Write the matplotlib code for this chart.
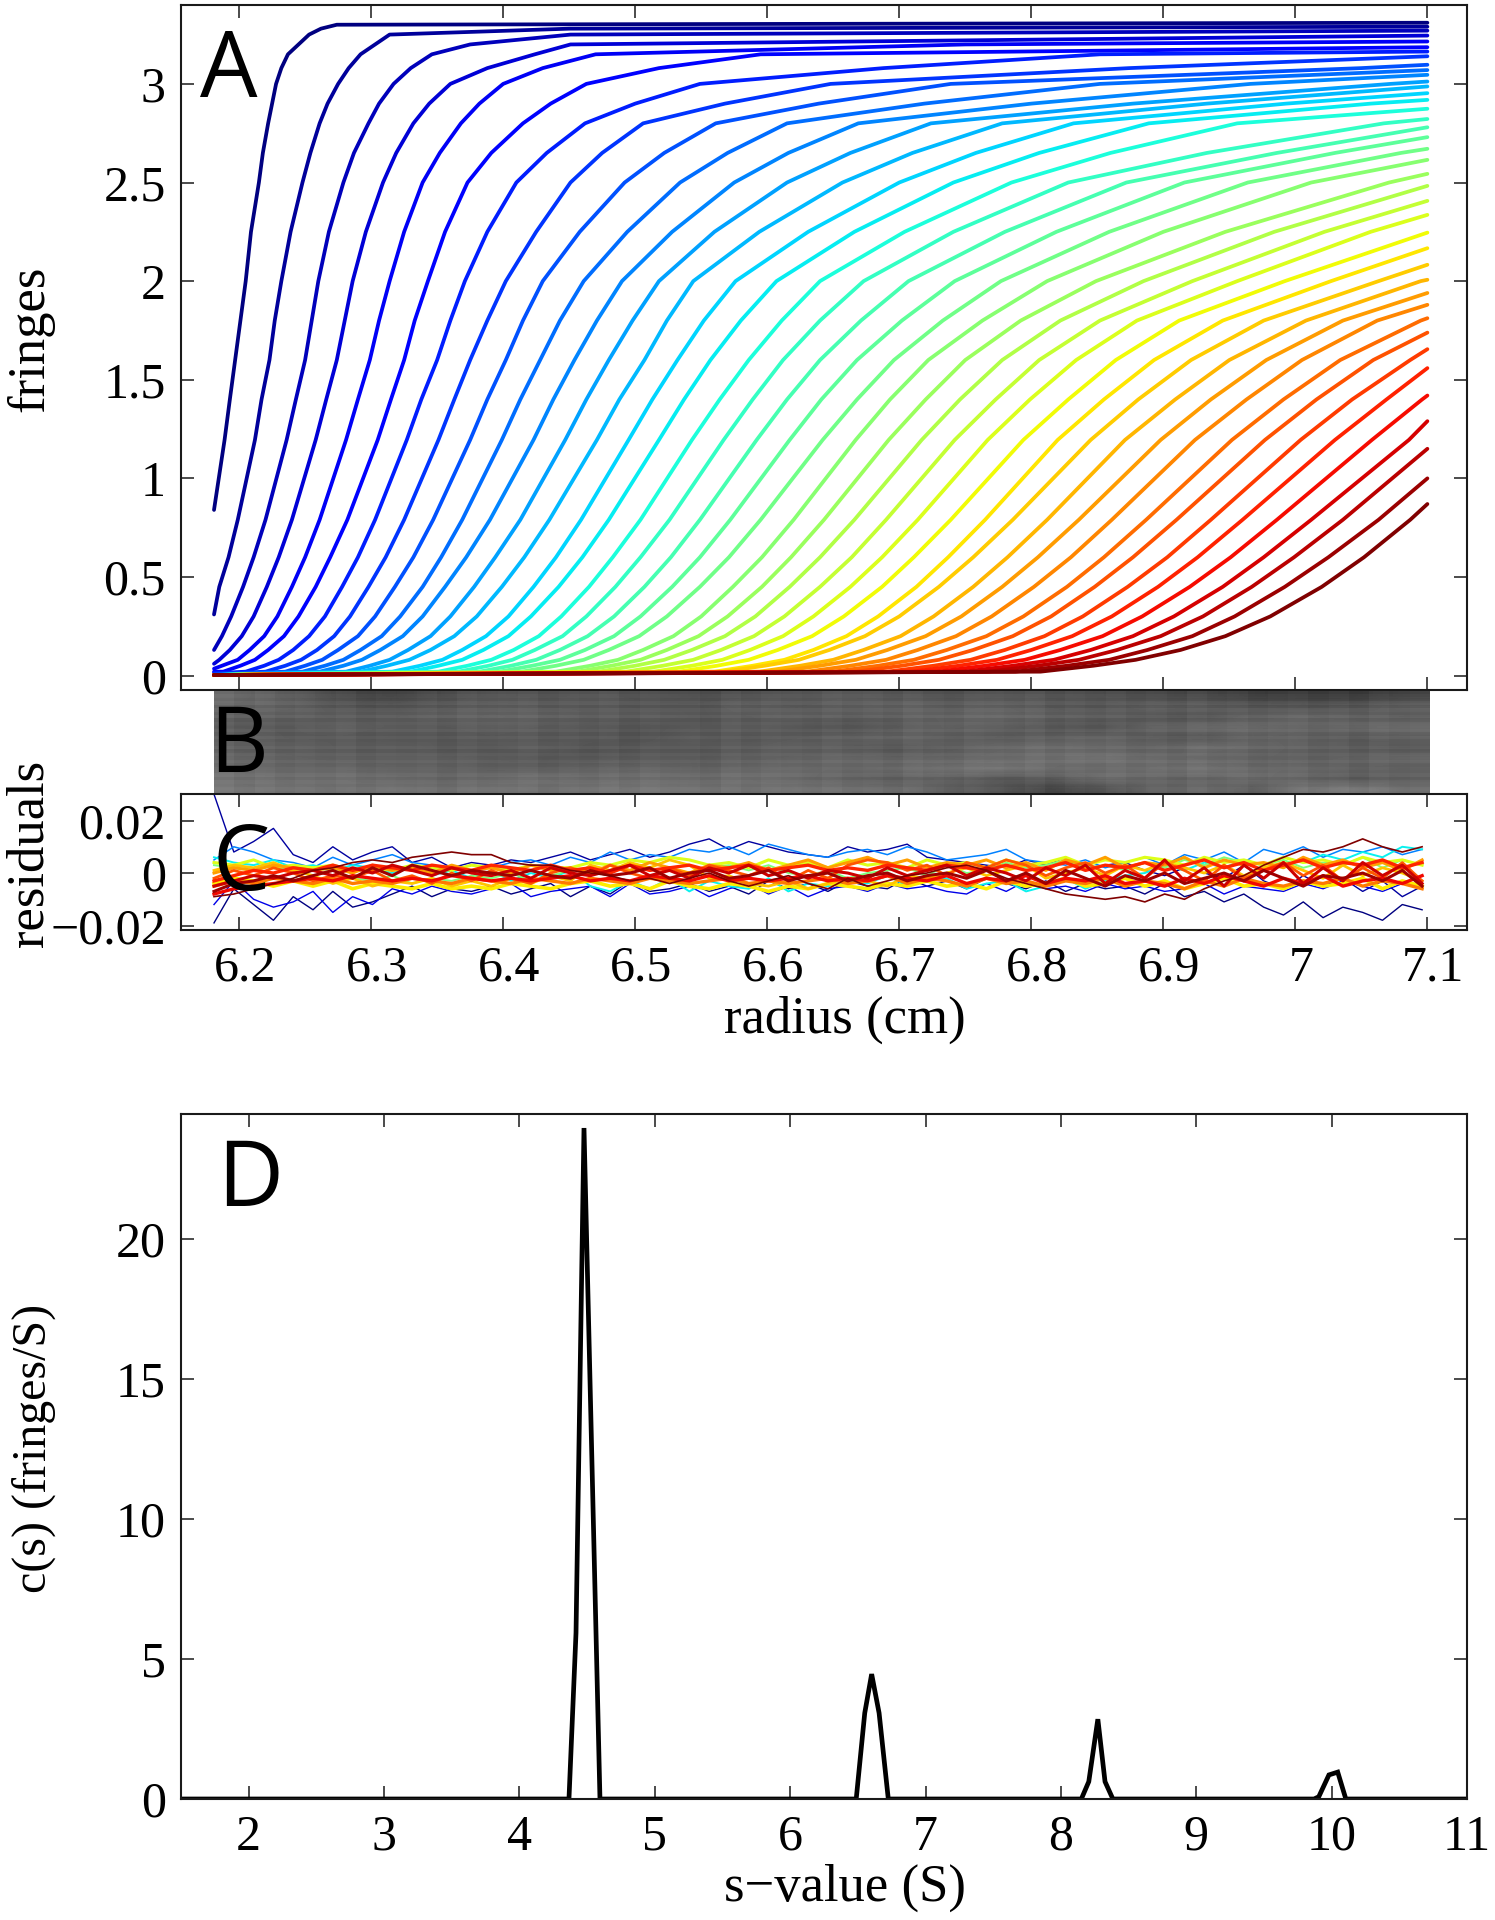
import numpy as np
import matplotlib
matplotlib.use('Agg')
from matplotlib import pyplot as plt
from matplotlib.transforms import ScaledTranslation

plt.rcParams['font.family'] = ['Liberation Serif', 'DejaVu Serif']

W, H = 1495, 1920
na = float('nan')

# panel A: radius (cm) where each scan crosses a given fringe level, scan 1 to 40
start_r = 6.181
end_r = 7.10
start_fringes = [0.84, 0.31, 0.13, 0.06, 0.035, 0.02, 0.012, 0.008, 0.005, 0.004] + [0.003] * 30
end_fringes = [3.31, 3.29, 3.27, 3.245, 3.215, 3.186, 3.164, 3.14, 3.097, 3.07,
               3.046, 3.012, 2.987, 2.953, 2.919, 2.874, 2.822, 2.78, 2.73, 2.671,
               2.615, 2.544, 2.483, 2.407, 2.336, 2.246, 2.167, 2.083, 2.007, 1.94,
               1.88, 1.812, 1.739, 1.655, 1.559, 1.42, 1.29, 1.15, 1.0, 0.87]

r_at_002 = [na, na, na, na, na, 6.188, 6.205, 6.220, 6.235, 6.248, 6.261, 6.281, 6.292, 6.316, 6.330,
            6.351, 6.366, 6.382, 6.397, 6.414, 6.440, 6.456, 6.472, 6.493, 6.514, 6.533, 6.560, 6.567,
            6.594, 6.608, 6.630, 6.650, 6.667, 6.691, 6.709, 6.729, 6.749, 6.767, 6.788, 6.807]
r_at_005 = [na, na, na, na, na, 6.201, 6.219, 6.235, 6.250, 6.265, 6.279, 6.299, 6.312, 6.337, 6.351,
            6.373, 6.389, 6.406, 6.422, 6.440, 6.466, 6.482, 6.500, 6.521, 6.543, 6.562, 6.589, 6.598,
            6.625, 6.640, 6.663, 6.684, 6.702, 6.726, 6.745, 6.765, 6.786, 6.805, 6.827, 6.847]
r_at_008 = [na, na, na, 6.185, 6.199, 6.212, 6.230, 6.247, 6.263, 6.279, 6.293, 6.314, 6.329, 6.354, 6.369,
            6.391, 6.407, 6.425, 6.443, 6.461, 6.487, 6.504, 6.522, 6.544, 6.566, 6.586, 6.613, 6.624,
            6.650, 6.667, 6.690, 6.711, 6.730, 6.754, 6.774, 6.795, 6.817, 6.836, 6.859, 6.879]
r_at_013 = [na, na, na, 6.193, 6.208, 6.222, 6.241, 6.259, 6.275, 6.292, 6.307, 6.328, 6.345, 6.369, 6.385,
            6.408, 6.424, 6.443, 6.462, 6.480, 6.506, 6.524, 6.543, 6.565, 6.587, 6.608, 6.635, 6.647,
            6.673, 6.691, 6.714, 6.736, 6.756, 6.780, 6.800, 6.822, 6.845, 6.865, 6.888, 6.913]
r_at_020 = [na, na, 6.187, 6.202, 6.219, 6.234, 6.253, 6.272, 6.290, 6.308, 6.324, 6.345, 6.363, 6.387, 6.404,
            6.427, 6.445, 6.464, 6.484, 6.503, 6.529, 6.548, 6.568, 6.590, 6.612, 6.634, 6.660, 6.674,
            6.701, 6.720, 6.743, 6.766, 6.786, 6.810, 6.831, 6.854, 6.877, 6.898, 6.922, 6.947]
r_at_030 = [na, na, 6.194, 6.211, 6.229, 6.245, 6.265, 6.284, 6.303, 6.322, 6.339, 6.360, 6.380, 6.404, 6.421,
            6.444, 6.463, 6.484, 6.504, 6.524, 6.550, 6.570, 6.591, 6.613, 6.635, 6.658, 6.684, 6.700,
            6.726, 6.747, 6.770, 6.794, 6.815, 6.839, 6.861, 6.884, 6.908, 6.930, 6.954, 6.981]
r_at_045 = [na, 6.185, 6.203, 6.221, 6.240, 6.258, 6.278, 6.298, 6.318, 6.339, 6.356, 6.378, 6.399, 6.423, 6.442,
            6.465, 6.485, 6.507, 6.528, 6.549, 6.574, 6.596, 6.617, 6.640, 6.663, 6.687, 6.713, 6.730,
            6.756, 6.778, 6.802, 6.827, 6.848, 6.873, 6.896, 6.920, 6.945, 6.967, 6.992, 7.020]
r_at_060 = [na, 6.192, 6.211, 6.230, 6.250, 6.269, 6.290, 6.311, 6.332, 6.353, 6.372, 6.394, 6.416, 6.440, 6.460,
            6.483, 6.504, 6.527, 6.549, 6.571, 6.596, 6.618, 6.640, 6.664, 6.687, 6.711, 6.737, 6.756,
            6.782, 6.805, 6.830, 6.855, 6.877, 6.903, 6.926, 6.951, 6.976, 6.999, 7.025, 7.052]
r_at_079 = [na, 6.199, 6.220, 6.240, 6.261, 6.282, 6.303, 6.325, 6.347, 6.369, 6.390, 6.413, 6.435, 6.459, 6.480,
            6.504, 6.526, 6.549, 6.572, 6.595, 6.620, 6.643, 6.666, 6.690, 6.714, 6.739, 6.765, 6.786,
            6.812, 6.836, 6.861, 6.887, 6.910, 6.936, 6.960, 6.986, 7.012, 7.036, 7.063, 7.087]
r_at_120 = [6.189, 6.212, 6.236, 6.258, 6.281, 6.305, 6.327, 6.351, 6.375, 6.399, 6.423, 6.447, 6.471, 6.495, 6.518,
            6.543, 6.567, 6.592, 6.617, 6.642, 6.667, 6.692, 6.717, 6.742, 6.767, 6.794, 6.820, 6.845,
            6.871, 6.898, 6.924, 6.952, 6.977, 7.004, 7.030, 7.058, 7.086]
r_at_140 = [6.193, 6.217, 6.243, 6.266, 6.290, 6.315, 6.338, 6.363, 6.388, 6.413, 6.438, 6.463, 6.488, 6.513, 6.537,
            6.564, 6.589, 6.615, 6.641, 6.668, 6.693, 6.720, 6.746, 6.773, 6.799, 6.828, 6.855, 6.881,
            6.909, 6.936, 6.963, 6.991, 7.016, 7.043, 7.069, 7.096]
r_at_160 = [6.197, 6.223, 6.250, 6.274, 6.299, 6.325, 6.350, 6.375, 6.402, 6.428, 6.454, 6.480, 6.507, 6.532, 6.557,
            6.586, 6.612, 6.640, 6.668, 6.696, 6.722, 6.750, 6.778, 6.806, 6.834, 6.864, 6.893, 6.921,
            6.950, 6.978, 7.005, 7.034, 7.059, 7.087]
r_at_180 = [6.201, 6.227, 6.255, 6.280, 6.306, 6.333, 6.360, 6.388, 6.415, 6.443, 6.471, 6.498, 6.524, 6.552, 6.580,
            6.611, 6.640, 6.671, 6.702, 6.733, 6.763, 6.792, 6.822, 6.852, 6.880, 6.912, 6.945, 6.976,
            7.008, 7.036, 7.062, 7.095]
r_at_200 = [6.205, 6.232, 6.260, 6.286, 6.314, 6.343, 6.371, 6.402, 6.430, 6.461, 6.490, 6.518, 6.544, 6.576, 6.607,
            6.640, 6.673, 6.707, 6.742, 6.777, 6.812, 6.849, 6.885, 6.922, 6.956, 6.992, 7.027, 7.063, 7.095]
r_at_225 = [6.209, 6.239, 6.268, 6.296, 6.325, 6.356, 6.388, 6.425, 6.458, 6.494, 6.528, 6.560, 6.594, 6.631, 6.666,
            6.704, 6.741, 6.780, 6.819, 6.859, 6.900, 6.947, 6.984, 7.022, 7.057]
r_at_250 = [6.215, 6.248, 6.279, 6.309, 6.339, 6.373, 6.410, 6.451, 6.492, 6.534, 6.575, 6.615, 6.657, 6.700, 6.741,
            6.785, 6.828, 6.872, 6.916, 6.964, 7.012, 7.071]
r_at_265 = [6.218, 6.254, 6.287, 6.319, 6.352, 6.391, 6.433, 6.475, 6.522, 6.570, 6.616, 6.663, 6.710, 6.758, 6.806,
            6.860, 6.933, 6.986, 7.030, 7.080]
r_at_280 = [6.222, 6.261, 6.298, 6.332, 6.368, 6.415, 6.462, 6.506, 6.561, 6.615, 6.669, 6.724, 6.778, 6.832, 6.889,
            6.956, 7.067]
r_at_290 = [6.225, 6.267, 6.306, 6.344, 6.382, 6.436, 6.500, 6.568, 6.639, 6.719, 6.800, 6.877, 6.933, 6.993, 7.057]
r_at_300 = [6.228, 6.275, 6.317, 6.360, 6.400, 6.463, 6.549, 6.648, 6.739, 6.852, 6.966, 7.072]
r_at_308 = [6.232, 6.283, 6.330, 6.388, 6.430, 6.518, 6.688, 6.874, 7.05]
r_at_315 = [6.237, 6.292, 6.346, 6.424, 6.470, 6.595, 6.852]
r_at_320 = [6.245, 6.303, 6.375, 6.451, 6.75]
r_at_325 = [6.253, 6.314, 6.451]
r_at_328 = [6.262, 6.45]
r_at_330 = [6.274]

crossings = [(0.02, r_at_002), (0.05, r_at_005), (0.08, r_at_008), (0.13, r_at_013), (0.2, r_at_020),
             (0.3, r_at_030), (0.45, r_at_045), (0.6, r_at_060), (0.79, r_at_079), (1.195, r_at_120),
             (1.4, r_at_140), (1.6, r_at_160), (1.8, r_at_180), (2.0, r_at_200), (2.25, r_at_225),
             (2.5, r_at_250), (2.65, r_at_265), (2.8, r_at_280), (2.9, r_at_290), (3.0, r_at_300),
             (3.08, r_at_308), (3.15, r_at_315), (3.2, r_at_320), (3.25, r_at_325), (3.28, r_at_328),
             (3.3, r_at_330)]

bitmap = [
    [110, 95, 70, 60, 75, 85, 80, 85, 80, 75, 80, 85, 90, 85, 80, 85, 80, 75, 70, 65, 55, 50, 50, 60],
    [105, 100, 85, 80, 90, 95, 90, 90, 85, 85, 95, 90, 95, 100, 95, 100, 90, 85, 95, 90, 85, 80, 85, 95],
    [95, 95, 90, 90, 95, 100, 95, 90, 90, 85, 90, 95, 90, 95, 100, 105, 95, 90, 85, 80, 95, 100, 95, 90],
    [90, 90, 95, 90, 90, 95, 90, 85, 80, 85, 90, 85, 80, 90, 100, 95, 85, 80, 100, 105, 110, 100, 105, 110],
    [95, 90, 90, 85, 85, 90, 85, 85, 80, 90, 85, 90, 95, 100, 95, 90, 95, 100, 90, 85, 100, 95, 90, 95],
    [95, 95, 90, 90, 85, 85, 90, 80, 85, 85, 90, 95, 90, 85, 95, 105, 110, 105, 100, 110, 105, 95, 90, 85],
    [105, 100, 95, 95, 95, 90, 85, 85, 90, 90, 95, 100, 105, 100, 105, 110, 115, 120, 110, 105, 100, 95, 100, 105],
    [110, 105, 105, 100, 100, 95, 95, 100, 105, 100, 105, 110, 105, 110, 120, 125, 115, 110, 115, 120, 110, 105, 100, 95],
    [120, 115, 115, 110, 105, 110, 115, 110, 115, 110, 115, 110, 100, 95, 100, 85, 90, 110, 105, 100, 110, 100, 90, 95],
    [125, 120, 115, 120, 115, 120, 115, 120, 125, 120, 115, 120, 115, 110, 95, 80, 60, 75, 100, 105, 95, 120, 130, 115],
]
row_streaks = [70, 110, 80, 130, 60, 120, 90, 140, 70, 110, 95, 130, 75, 125, 85, 100, 135, 70, 115, 90,
               125, 80, 105, 95, 130, 75, 110, 90, 120, 100]
col_streaks = [130, 70, 120, 80, 110, 90, 125, 75, 105, 95, 115, 70, 120, 85, 100, 130, 80, 110, 90, 125,
               75, 115, 95, 105, 70, 130, 85, 120, 100, 80, 125, 90, 110, 75, 135, 95, 70, 120, 105, 85,
               130, 75, 115, 90, 125, 80, 110, 70, 135, 95, 120, 75, 105, 130, 85, 115, 70, 125, 95, 110]

# panel C: residual traces, in units of 0.001 fringes, one sample every 0.015 cm
res_navy_low = [-19, -6, -12, -18, -9, -14, -7, -13, -11, -8, -5, -9, -6, -7, -5, -8, -6, -4, -9, -5, -8, -3, -7, -6, -4, -7, -5, -8, -3, -6, -4, -7, -3, -5, -6, -2, -5, -3, -6, -2, -4, -6, -3, -7, -4, -6, -5, -8, -4, -9, -7, -11, -8, -13, -16, -11, -17, -13, -15, -18, -12, -14]
res_navy_up = [30, 8, 12, 17, 7, 4, 10, 5, 8, 10, 4, 6, 2, 4, 3, 5, 4, 6, 8, 5, 7, 9, 6, 8, 11, 13, 9, 12, 10, 8, 7, 6, 10, 8, 9, 11, 6, 5, 4, 3, 2, 5, 3, 6, 2, 3, 4, 1, -1, 2, 0, -2, 3, -3, -6, -1, -5, -2, -7, -3, -9, -5]
res_blue_low = [-12, -3, -10, -13, -11, -7, -15, -9, -12, -6, -8, -5, -7, -8, -6, -4, -9, -7, -6, -5, -9, -4, -8, -7, -5, -9, -6, -4, -8, -5, -9, -6, -5, -7, -4, -6, -5, -7, -8, -4, -7, -3, -6, -5, -7, -4, -6, -5, -7, -6, -4, -8, -5, -6, -7, -4, -6, -3, -5, -7, -4, -6]
res_blue_up = [5, 10, 8, 5, 4, 2, 6, 3, 5, 7, 4, 3, 1, 3, 2, 4, 5, 3, 6, 4, 8, 5, 7, 6, 9, 8, 10, 7, 11, 9, 7, 6, 8, 9, 7, 10, 8, 5, 6, 7, 9, 5, 4, 3, 5, 2, 4, 6, 3, 7, 5, 8, 4, 9, 7, 10, 6, 9, 8, 10, 7, 9]
res_cyan = [6, 4, 3, 5, 2, 3, 1, 3, 2, 0, 2, -1, 1, -2, 1, -3, 0, -2, 1, -5, -7, -3, -6, -2, -7, -3, -5, -6, -2, -7, -4, -5, -3, -4, -1, -5, -3, -2, -6, -4, -3, -7, -5, -2, -6, -3, -1, 0, 3, 1, 4, 2, 5, 3, 6, 4, 7, 5, 8, 6, 10, 9]
res_green = [3, 2, 1, 3, 0, 2, 1, -2, -3, -1, -4, -2, -3, -1, -2, 0, -3, -1, 1, 2, 0, 3, 1, 2, 0, 2, 3, 1, 3, 0, -1, 1, -2, 0, 1, 2, -1, 3, 0, 1, 4, 2, 3, 5, 2, 3, 1, 4, 2, 5, 3, 6, 4, 3, 5, 2, 4, 3, 6, 2, 5, 3]
res_yellow_hi = [4, 3, 5, 2, 3, 2, 3, 1, 2, 1, 3, 2, 1, 3, 2, 1, 3, 2, 2, 4, 3, 5, 4, 6, 5, 3, 4, 2, 5, 3, 4, 2, 5, 3, 4, 2, 5, 3, 4, 2, 5, 3, 4, 6, 3, 5, 4, 6, 5, 3, 6, 4, 5, 3, 6, 4, 5, 3, 6, 4, 5, 3]
res_yellow_lo = [-4, -2, -3, -5, -3, -5, -3, -6, -4, -5, -6, -4, -6, -5, -6, -4, -5, -6, -4, -3, -5, -4, -6, -3, -5, -6, -4, -5, -7, -5, -6, -4, -5, -6, -4, -5, -3, -5, -4, -6, -3, -5, -4, -2, -5, -4, -2, -5, -3, -6, -4, -2, -5, -4, -6, -3, -5, -4, -2, -6, -3, -5]
res_yellow = [1, 3, 2, 4, 1, -1, -4, -2, -5, -3, -4, -2, -5, -3, -5, -2, -4, -1, -3, 3, 1, 4, 2, 5, 3, -2, -1, -4, -5, -3, -6, -4, -2, -3, -5, -1, -2, 0, 2, -1, 1, 3, -2, 0, 2, -1, 3, 1, 4, 2, 0, 3, -1, 2, 4, 1, -2, 3, -1, 2, 0, -3]
res_orange_hi = [0, 2, 1, 3, 2, 1, 2, 0, 3, 1, 2, 0, 3, 1, 2, 0, 3, 1, 2, 0, 3, 1, 4, 2, 0, 3, 2, 4, 1, 3, 5, 2, 4, 6, 3, 5, 2, 4, 3, 5, 2, 4, 1, 5, 3, 6, 2, 4, 3, 6, 2, 5, 3, 4, 2, 6, 3, 5, 2, 4, 1, 5]
res_orange_lo = [-5, -3, -4, -2, -3, -4, -2, -4, -3, -4, -2, -3, -4, -2, -3, -4, -2, -3, -4, -2, -3, -4, -2, -3, -4, -3, -2, -4, -3, -4, -3, -2, -4, -3, -1, -4, -2, -3, -5, -2, -4, -3, -5, -3, -4, -2, -5, -3, -4, -6, -3, -5, -2, -4, -5, -3, -4, -2, -5, -3, -4, -6]
res_orange = [-2, 1, -1, 2, 0, -3, -1, -2, 1, -3, -1, -4, 0, -3, 1, -2, -4, 0, 2, -1, 3, 0, -2, 2, -1, 3, 1, -1, 2, -3, 1, -2, 3, 5, 4, 1, 3, -1, 4, 2, 5, 3, -1, 2, 4, 0, 3, -2, 4, 1, -3, 3, -2, 1, 4, -1, 3, -3, 2, -2, 4, -3]
res_red_hi = [-3, -1, 1, 0, 2, 1, 3, 1, 3, 2, 1, 3, 2, 1, 3, 2, 1, 3, 1, 2, 0, 3, 1, 2, 3, 1, 2, 3, 1, 2, 3, 1, 2, 1, 3, 2, 1, 3, 2, 1, 3, 1, 2, 4, 1, 3, 2, 4, 1, 3, 5, 2, 4, 1, 3, 5, 2, 4, 3, 5, 2, 4]
res_red_lo = [-8, -6, -5, -4, -3, -2, -3, -1, -2, -3, -2, -3, -1, -2, -3, -2, -3, -2, -1, -3, -2, -3, -1, -2, -3, -1, -3, -2, -3, -2, -1, -3, -2, -3, -1, -2, -3, -1, -4, -2, -3, -1, -4, -2, -3, -1, -4, -3, -5, -2, -4, -1, -3, -5, -2, -4, -1, -5, -3, -2, -4, -1]
res_red1 = [-5, -3, -1, -2, 0, 1, -1, 2, 0, 3, 1, -1, 2, 0, -1, 1, -2, 2, 0, -1, 1, 3, -1, 1, -2, 2, 0, 3, -1, 1, -2, 1, 0, -2, 2, -1, 1, 3, -1, 2, 0, -3, 2, -1, 3, -4, 1, -2, 5, -3, 2, -5, 3, -2, 4, -4, 2, -3, 4, -1, 3, -4]
res_red2 = [-7, -4, -3, -1, -3, -1, 1, -2, 2, -1, 3, 1, -1, 1, 0, -1, 1, -1, -2, 1, -1, 0, 2, -2, 0, 1, -2, -1, 1, -3, -1, 0, -3, -1, 0, -3, -1, 0, -2, 1, -3, 0, -4, 1, -2, -5, -1, -3, 0, -4, -2, 0, -3, 1, -2, -5, -1, -2, 0, -3, 1, -5]
res_maroon = [-9, -8, -6, -4, -2, 1, 2, 4, 5, 4, 6, 7, 8, 7, 7, 4, 3, 3, 1, 0, -1, -3, -2, -4, -2, 0, -3, -5, -3, -1, -4, -6, -2, -5, -3, -1, 0, 2, 3, 1, -2, -4, -6, -8, -9, -10, -9, -11, -8, -10, -6, -3, -1, 3, 6, 9, 8, 10, 13, 10, 8, 10]

res_traces = [(res_navy_low, 0.0, 1.0), (res_navy_up, 0.03, 1.0), (res_blue_low, 0.09, 1.0),
              (res_blue_up, 0.25, 1.1), (res_cyan, 0.36, 1.4), (res_green, 0.5, 1.4),
              (res_yellow_hi, 0.62, 2.2), (res_yellow_lo, 0.66, 2.6), (res_yellow, 0.7, 2.0),
              (res_orange_hi, 0.74, 2.2), (res_orange_lo, 0.78, 2.4), (res_orange, 0.82, 2.0),
              (res_red_hi, 0.87, 2.4), (res_red_lo, 0.9, 2.4), (res_red1, 0.93, 2.2),
              (res_red2, 0.97, 2.2), (res_maroon, 1.0, 1.2)]

# panel D: c(s) distribution
s_values = [1.5, 4.366, 4.418, 4.477, 4.595, 6.488, 6.551, 6.602, 6.657, 6.725,
            8.151, 8.206, 8.273, 8.326, 8.384, 9.87, 9.905, 9.98, 10.045, 10.105, 11.0]
cs_values = [0, 0, 5.93, 23.96, 0, 0, 3.07, 4.46, 3.07, 0,
             0, 0.62, 2.85, 0.62, 0, 0, 0.08, 0.86, 0.96, 0, 0]

radius_ticks = [6.2, 6.3, 6.4, 6.5, 6.6, 6.7, 6.8, 6.9, 7.0, 7.1]
radius_labels = ['6.2', '6.3', '6.4', '6.5', '6.6', '6.7', '6.8', '6.9', '7', '7.1']
fringe_ticks = [0, 0.5, 1, 1.5, 2, 2.5, 3]
fringe_labels = ['0', '0.5', '1', '1.5', '2', '2.5', '3']
res_ticks = [-0.02, 0, 0.02]
res_labels = ['\u22120.02', '0', '0.02']
s_ticks = [2, 3, 4, 5, 6, 7, 8, 9, 10, 11]
cs_ticks = [0, 5, 10, 15, 20]


def axes_px(left, top, right, bottom):
    return [left / W, 1 - bottom / H, (right - left) / W, (bottom - top) / H]


def style(ax):
    for side in ax.spines:
        ax.spines[side].set_linewidth(1.5)
        ax.spines[side].set_color('#1a1a1a')
    ax.tick_params(direction='in', length=9.5, width=1.1, top=True, right=True,
                   labelsize=36, color='#1a1a1a', pad=11)


fig = plt.figure(figsize=(W / 100, H / 100), dpi=100)

# A
ax_a = fig.add_axes(axes_px(181, 5, 1467, 690))
colors = plt.cm.jet(np.linspace(0, 1, 40))
for i in range(40):
    xs = [start_r]
    ys = [start_fringes[i]]
    for level, row in crossings:
        if i < len(row) and not np.isnan(row[i]):
            xs.append(row[i])
            ys.append(level)
    xs.append(end_r)
    ys.append(end_fringes[i])
    ax_a.plot(xs, ys, color=colors[i], lw=2.7, solid_capstyle='round')
ax_a.set_xlim(6.156, 7.130)
ax_a.set_ylim(-0.073, 3.40)
ax_a.set_xticks(radius_ticks)
ax_a.set_xticklabels([])
ax_a.set_yticks(fringe_ticks)
ax_a.set_yticklabels(fringe_labels)
style(ax_a)

# B
ax_b = fig.add_axes(axes_px(214, 691, 1430, 794))
ax_b.imshow(bitmap, cmap='gray', vmin=0, vmax=255, aspect='auto', interpolation='bilinear',
            extent=(0, 1, 0, 1))
ax_b.imshow(np.array(row_streaks).reshape(-1, 1), cmap='gray', vmin=0, vmax=255, aspect='auto',
            interpolation='nearest', extent=(0, 1, 0, 1), alpha=0.16)
ax_b.imshow(np.array(col_streaks).reshape(1, -1), cmap='gray', vmin=0, vmax=255, aspect='auto',
            interpolation='nearest', extent=(0, 1, 0, 1), alpha=0.12)
ax_b.axis('off')

# C
ax_c = fig.add_axes(axes_px(181, 794, 1467, 930))
r_res = np.linspace(6.181, 7.096, 62)
for trace, shade, width in res_traces:
    ax_c.plot(r_res, np.array(trace) * 0.001, color=plt.cm.jet(shade), lw=width)
ax_c.set_xlim(6.156, 7.130)
ax_c.set_ylim(-0.0217, 0.0301)
ax_c.set_xticks(radius_ticks)
ax_c.set_xticklabels(radius_labels)
ax_c.set_yticks(res_ticks)
ax_c.set_yticklabels(res_labels)
style(ax_c)
# the radius labels sit a little right of their ticks
shift = ScaledTranslation(6 / 100, 0, fig.dpi_scale_trans)
for label in ax_c.get_xticklabels():
    label.set_transform(label.get_transform() + shift)

# D
ax_d = fig.add_axes(axes_px(181, 1114, 1467, 1799))
ax_d.plot(s_values, cs_values, color='black', lw=3.4, solid_joinstyle='miter')
ax_d.set_xlim(1.5, 11)
ax_d.set_ylim(0, 24.46)
ax_d.set_xticks(s_ticks)
ax_d.set_yticks(cs_ticks)
style(ax_d)

# axis names
fig.text(845 / W, 1 - 1020 / H, 'radius (cm)', fontsize=38, ha='center', va='center')
fig.text(845 / W, 1 - 1888 / H, 's\u2212value (S)', fontsize=38, ha='center', va='center')
fig.text(30 / W, 1 - 339 / H, 'fringes', rotation=90, fontsize=38, ha='center', va='center')
fig.text(30 / W, 1 - 853 / H, 'residuals', rotation=90, fontsize=38, ha='center', va='center')
fig.text(34 / W, 1 - 1448 / H, 'c(s) (fringes/S)', rotation=90, fontsize=34.5, ha='center', va='center')

# panel letters
for letter, x, y in [('A', 200, 97), ('B', 209, 772), ('C', 212, 890), ('D', 217, 1206)]:
    fig.text(x / W, 1 - y / H, letter, family='Open Sans', fontsize=65.5, ha='left', va='baseline')

fig.savefig('out.png', dpi=100)
